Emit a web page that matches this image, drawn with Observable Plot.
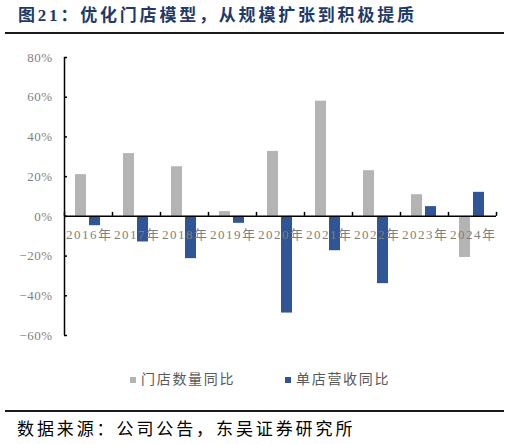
<!DOCTYPE html>
<html>
<head>
<meta charset="utf-8">
<script src="https://cdn.jsdelivr.net/npm/d3@7"></script>
<script src="https://cdn.jsdelivr.net/npm/@observablehq/plot@0.6"></script>
<style>
  body { margin: 0; background: #fff; }
  #wrap { position: relative; width: 510px; height: 444px; overflow: hidden;
    font-family: "Liberation Serif", "Noto Sans CJK SC", serif; }
  #title { position: absolute; left: 18px; top: 4px; font-size: 17px; font-weight: bold;
    color: #1f3a68; letter-spacing: 2.8px; white-space: nowrap; line-height: 24px; }
  .rule { position: absolute; left: 5px; width: 499px; height: 2px; background: #1a1a1a; }
  #chart_1 { position: absolute; left: 0; top: 36px; }
  #legend { position: absolute; top: 370px; left: 0; width: 510px; height: 20px;
    font-size: 14px; color: #595959; letter-spacing: 1.7px; }
  #legend span.sw { position: absolute; top: 7px; width: 6px; height: 6px; }
  #legend span.lb { position: absolute; top: 0; line-height: 20px; white-space: nowrap; }
  #source { position: absolute; left: 17px; top: 418px; font-size: 17px; color: #000;
    letter-spacing: 2.9px; white-space: nowrap; line-height: 24px; }
  .yl text { letter-spacing: 0.5px; }
  .xl text { letter-spacing: 1.5px; }
</style>
</head>
<body>
<div id="wrap">
  <div id="title">图21：优化门店模型，从规模扩张到积极提质</div>
  <div class="rule" style="top:32px"></div>
  <div id="chart_1"></div>
  <div id="legend"></div>
  <div class="rule" style="top:410px"></div>
  <div id="source">数据来源：公司公告，东吴证券研究所</div>
</div>
<script>
// 年份
const years = ["2016年", "2017年", "2018年", "2019年", "2020年", "2021年", "2022年", "2023年", "2024年"]
// 门店数量同比 (%)
const storeYoY = [21, 31.6, 25, 2.4, 32.7, 58, 23, 10.9, -20.7]
// 单店营收同比 (%)
const perStoreYoY = [-4.7, -12.9, -21.3, -3.5, -48.7, -17.3, -33.9, 4.9, 12.1]
// 刻度
const yTicks = [-60, -40, -20, 0, 20, 40, 60, 80]
const seriesNames = ["门店数量同比", "单店营收同比"]
const colors = ["#b4b4b4", "#2f5597"]

const gray = "#7f7f7f"

let chart1 = Plot.plot({
  width: 510,
  height: 324,
  marginTop: 21,
  marginBottom: 25,
  marginLeft: 64,
  marginRight: 14,
  style: { fontFamily: '"Liberation Serif", "Noto Sans CJK SC", serif', background: "transparent" },
  x: { type: "band", domain: years, padding: 0, axis: null },
  y: { domain: [-60, 80], axis: null },
  marks: [
    // barras
    Plot.barY(storeYoY, {
      x: (d, i) => years[i], y: d => d, fill: colors[0], insetLeft: 11, insetRight: 26
    }),
    Plot.barY(perStoreYoY, {
      x: (d, i) => years[i], y: d => d, fill: colors[1], insetLeft: 25, insetRight: 12
    }),
    // etiquetas del eje x, sobre la línea del cero
    Plot.text(years, {
      x: d => d, y: 0, text: d => d, dy: 18, dx: 0.75, fill: gray, fontSize: 13,
      className: "xl"
    }),
    // eje y
    Plot.ruleX([years[0]], { y1: -60, y2: 80, dx: -24, stroke: "#000", strokeWidth: 1.5 }),
    Plot.tickY(yTicks, { y: d => d, x: () => years[0], insetRight: 45, stroke: "#000", strokeWidth: 1.5 }),
    Plot.text(yTicks, {
      y: d => d, frameAnchor: "left", textAnchor: "end", dx: -12,
      text: d => (d < 0 ? "\u2212" + Math.abs(d) : d) + "%", fill: gray, fontSize: 13,
      className: "yl"
    }),
    // línea del cero y sus ticks
    Plot.ruleY([0], { stroke: "#000", strokeWidth: 1.5 }),
    Plot.ruleX(years, { x: d => d, y1: 0, y2: 2, dx: -24, stroke: "#000", strokeWidth: 1.5 }),
    Plot.ruleX([years[years.length - 1]], { x: d => d, y1: 0, y2: 2, dx: 24, stroke: "#000", strokeWidth: 1.5 })
  ]
})
d3.select('#chart_1').append(() => chart1)

// leyenda
const legendPos = [130, 285]
const legend = d3.select('#legend')
seriesNames.forEach((name, i) => {
  legend.append('span').attr('class', 'sw')
    .style('left', legendPos[i] + 'px').style('background', colors[i])
  legend.append('span').attr('class', 'lb')
    .style('left', (legendPos[i] + 11) + 'px').text(name)
})
</script>
</body>
</html>
